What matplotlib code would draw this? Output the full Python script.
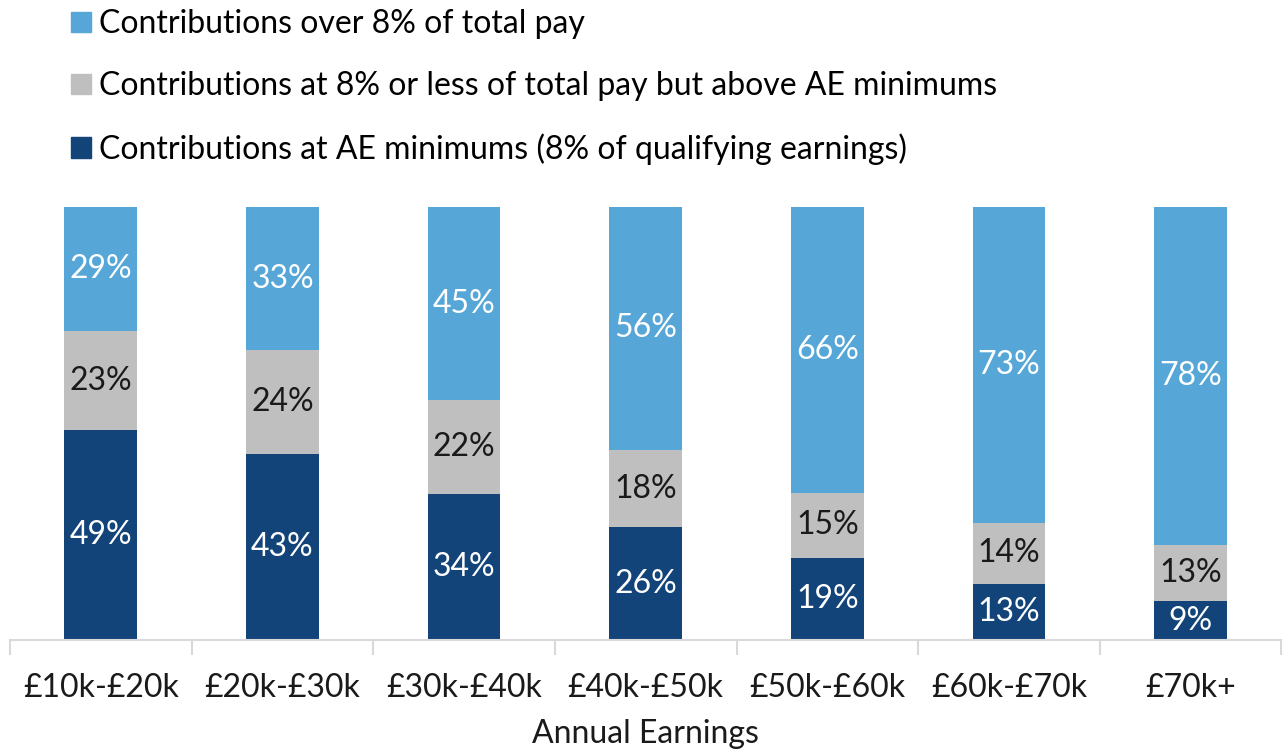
import numpy as np
import matplotlib
matplotlib.use("Agg")
import matplotlib.pyplot as plt
from matplotlib.patches import Patch

plt.rcParams['font.family'] = ['Lato', 'DejaVu Sans']

categories = ['£10k-£20k', '£20k-£30k', '£30k-£40k', '£40k-£50k',
              '£50k-£60k', '£60k-£70k', '£70k+']
at_minimum = [49, 43, 34, 26, 19, 13, 9]
above_minimum = [23, 24, 22, 18, 15, 14, 13]
over_8pct = [29, 33, 45, 56, 66, 73, 78]

series_names = ['Contributions at AE minimums (8% of qualifying earnings)',
                'Contributions at 8% or less of total pay but above AE minimums',
                'Contributions over 8% of total pay']
colors = ['#12447A', '#BFBFBF', '#56A7D7']
text_colors = ['white', '#1a1a1a', 'white']
FS = 23

data = np.array([at_minimum, above_minimum, over_8pct], dtype=float)
shares = data / data.sum(axis=0) * 100  # bars all run to 100%

fig = plt.figure(figsize=(12.83, 7.53), dpi=100)
ax = fig.add_axes([0.0078, 0.150, 0.991, 0.575])

x = np.arange(len(categories))
bottom = np.zeros(len(categories))
for i in range(3):
    ax.bar(x, shares[i], bottom=bottom, width=0.40, color=colors[i])
    for j in range(len(categories)):
        ax.text(x[j], bottom[j] + shares[i][j] / 2, f'{int(data[i][j])}%',
                ha='center', va='center', fontsize=FS, color=text_colors[i])
    bottom += shares[i]

ax.set_xlim(-0.5, len(categories) - 0.5)
ax.set_ylim(0, 100)
ax.set_yticks([])
for s in ['top', 'right', 'left']:
    ax.spines[s].set_visible(False)
ax.spines['bottom'].set_color('#D9D9D9')
ax.spines['bottom'].set_linewidth(1.5)

# category labels, ticks on the boundaries
ax.set_xticks(x)
ax.set_xticklabels(categories, fontsize=FS, color='#1a1a1a')
ax.tick_params(axis='x', which='major', length=0, pad=24)
ax.set_xticks(np.arange(-0.5, len(categories)), minor=True)
ax.tick_params(axis='x', which='minor', length=11, width=1.5, color='#D9D9D9')
ax.set_xlabel('Annual Earnings', fontsize=FS, color='#1a1a1a', labelpad=11)

handles = [Patch(color=colors[i]) for i in [2, 1, 0]]
labels = [series_names[i] for i in [2, 1, 0]]
fig.legend(handles, labels, loc='upper left', bbox_to_anchor=(0.033, 1.026),
           frameon=False, handlelength=0.62, handleheight=0.62,
           handletextpad=0.25, labelspacing=1.0, prop={'size': FS})

fig.savefig('out.png', dpi=100)
